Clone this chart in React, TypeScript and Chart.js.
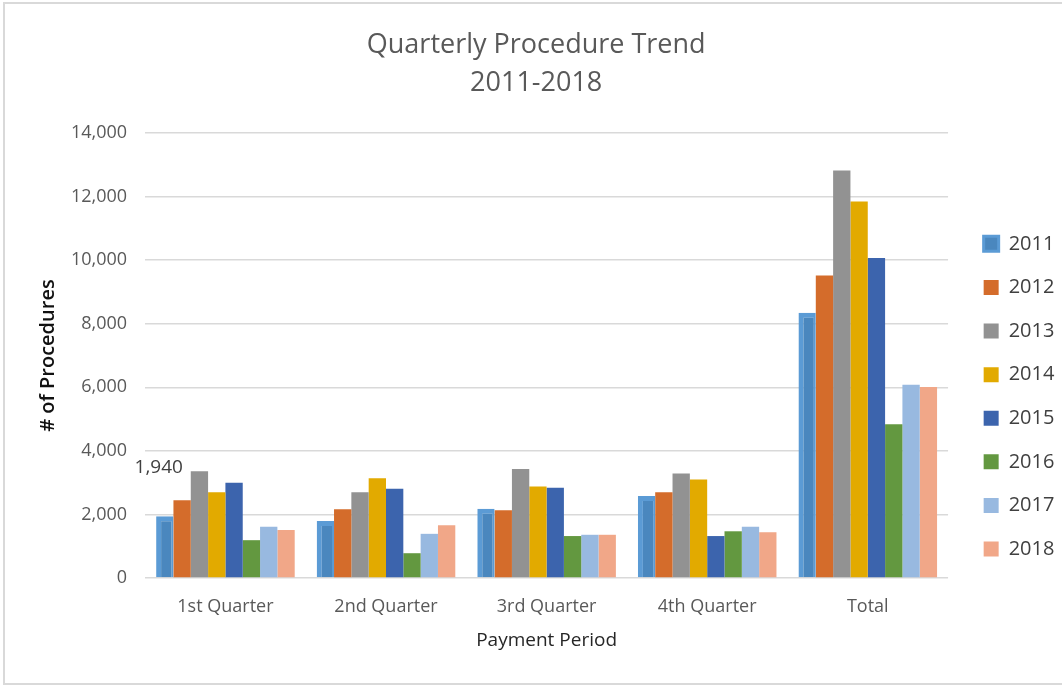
import React, { useEffect, useRef } from 'react';
import { Chart, registerables } from 'chart.js';

Chart.register(...registerables);

const CATEGORIES = ['1st Quarter', '2nd Quarter', '3rd Quarter', '4th Quarter', 'Total'];
const YEARS = ['2011', '2012', '2013', '2014', '2015', '2016', '2017', '2018'];

const V2011 = [1940, 1790, 2180, 2580, 8350];
const V2012 = [2450, 2160, 2130, 2700, 9520];
const V2013 = [3360, 2700, 3430, 3290, 12820];
const V2014 = [2700, 3140, 2880, 3100, 11850];
const V2015 = [3000, 2810, 2840, 1320, 10070];
const V2016 = [1190, 780, 1320, 1470, 4840];
const V2017 = [1610, 1390, 1360, 1610, 6080];
const V2018 = [1510, 1660, 1360, 1440, 6010];

const SERIES = [V2011, V2012, V2013, V2014, V2015, V2016, V2017, V2018];

const Y_MIN = 0;
const Y_MAX = 14000;
const Y_STEP = 2000;

const TITLE_LINES = ['Quarterly Procedure Trend', '2011-2018'];
const Y_TITLE = '# of Procedures';
const X_TITLE = 'Payment Period';

// data label shown on the chart (dataset index, point index)
const LABEL_SERIES = 0;
const LABEL_POINT = 0;

const FILL_COLORS = ['#4A87BE', '#D46C2B', '#929292', '#E2AA00', '#3C64AD', '#639840', '#98B9E0', '#F1A788'];
const EDGE_COLORS = ['#5B9BD5', '#D46C2B', '#929292', '#E2AA00', '#3C64AD', '#639840', '#98B9E0', '#F1A788'];

const FONT = "'Open Sans', 'Liberation Sans', sans-serif";

const fmt = (v: number) => v.toLocaleString('en-US');

const legendShift = {
  id: 'legendShift',
  afterLayout(chart: any) {
    const lg = chart.legend;
    if (!lg) return;
    const dx = 12;
    const dy = 57;
    lg.left += dx;
    lg.right += dx;
    lg.top += dy;
    lg.bottom += dy;
  },
};

const dataLabel = {
  id: 'dataLabel',
  afterDatasetsDraw(chart: any) {
    const meta = chart.getDatasetMeta(LABEL_SERIES);
    const el = meta && meta.data[LABEL_POINT];
    if (!el) return;
    const ctx = chart.ctx;
    ctx.save();
    ctx.font = `19px ${FONT}`;
    ctx.fillStyle = '#404040';
    ctx.textAlign = 'center';
    ctx.textBaseline = 'middle';
    ctx.fillText(fmt(SERIES[LABEL_SERIES][LABEL_POINT]), el.x - 6, el.y - 49);
    ctx.restore();
  },
};

export default function App() {
  const ref = useRef<HTMLCanvasElement | null>(null);

  useEffect(() => {
    if (!ref.current) return;
    const datasets = YEARS.map((y, i) => ({
      label: y,
      data: SERIES[i],
      backgroundColor: FILL_COLORS[i],
      borderColor: EDGE_COLORS[i],
      borderWidth: i === 0 ? { top: 5, left: 5, right: 2, bottom: 0 } : 0,
      categoryPercentage: 0.863,
      barPercentage: 1.0,
    }));

    const chart = new Chart(ref.current, {
      type: 'bar',
      data: { labels: CATEGORIES, datasets },
      plugins: [legendShift, dataLabel],
      options: {
        responsive: false,
        animation: false,
        devicePixelRatio: 1,
        layout: { padding: { top: 26.5, left: 20, right: 9.6, bottom: 32.6 } },
        plugins: {
          title: {
            display: true,
            text: TITLE_LINES,
            color: '#595959',
            font: { family: FONT, size: 27, weight: 'normal', lineHeight: 1.4 },
            padding: { top: 0, bottom: 31 },
          },
          legend: {
            position: 'right',
            align: 'center',
            labels: {
              font: { family: FONT, size: 20 },
              color: '#404040',
              boxWidth: 15,
              boxHeight: 15,
              padding: 23.6,
            },
          },
          tooltip: { enabled: false },
        },
        scales: {
          x: {
            grid: { display: false, drawTicks: false },
            border: { display: false },
            ticks: {
              color: '#595959',
              font: { family: FONT, size: 18 },
              padding: 18,
            },
            title: {
              display: true,
              text: X_TITLE,
              color: '#262626',
              font: { family: FONT, size: 19 },
              padding: { top: -6, bottom: 0 },
            },
          },
          y: {
            min: Y_MIN,
            max: Y_MAX,
            grid: { color: '#D9D9D9', lineWidth: 1.5, drawTicks: false, tickLength: 0 },
            border: { display: false },
            ticks: {
              stepSize: Y_STEP,
              color: '#595959',
              font: { family: FONT, size: 18 },
              padding: 18,
              callback: (v: any) => fmt(Number(v)),
            },
            title: {
              display: true,
              text: Y_TITLE,
              color: '#111111',
              font: { family: FONT, size: 20, weight: 600 },
              padding: { top: 16, bottom: -7 },
            },
          },
        },
      },
    });
    return () => chart.destroy();
  }, []);

  return (
    <div style={{ position: 'fixed', left: 0, top: 0, width: 1062, height: 685, overflow: 'hidden', background: '#fff' }}>
      <div
        style={{
          position: 'absolute',
          left: 3,
          top: 2,
          width: 1100,
          height: 683,
          boxSizing: 'border-box',
          border: '2px solid #D9D9D9',
        }}
      />
      <canvas ref={ref} width={1062} height={685} style={{ position: 'absolute', left: 0, top: 0, width: 1062, height: 685 }} />
    </div>
  );
}
